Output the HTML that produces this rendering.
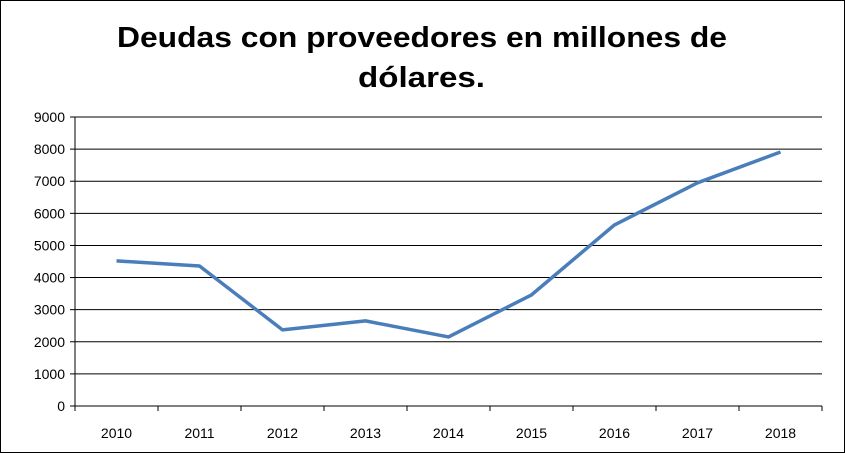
<!DOCTYPE html>
<html><head><meta charset="utf-8"><style>
body{margin:0;background:#fff;}
svg{display:block;font-family:"Liberation Sans",sans-serif;}
</style></head><body>
<svg id="chart" width="845" height="453">
<rect x="0.5" y="0.5" width="844" height="452" fill="#fff" stroke="#000"/>
<text x="117" y="47" textLength="610" lengthAdjust="spacingAndGlyphs" font-size="29" font-weight="bold">Deudas con proveedores en millones de</text>
<text x="358" y="87" textLength="127" lengthAdjust="spacingAndGlyphs" font-size="29" font-weight="bold">dólares.</text>
<g id="grid"></g><g id="axes"></g><g id="series"></g>
</svg>
<script>
const categories=["2010","2011","2012","2013","2014","2015","2016","2017","2018"];
const values=[4520,4360,2370,2650,2150,3460,5640,6950,7910];
const yTicks=[0,1000,2000,3000,4000,5000,6000,7000,8000,9000];
const ns="http://www.w3.org/2000/svg";
const L=75,R=822,T=117,B=406,yMax=9000;
const band=(R-L)/categories.length;
const x=i=>L+band*(i+0.5);
const y=v=>B-(v/yMax)*(B-T);
function mk(t,a,p){const e=document.createElementNS(ns,t);for(const k in a)e.setAttribute(k,a[k]);p.appendChild(e);return e;}
const g=document.getElementById('grid'),ax=document.getElementById('axes'),s=document.getElementById('series');
yTicks.forEach(v=>{
  const ln=mk('line',{x1:L,x2:R,y1:y(v),y2:y(v),stroke:'#000','stroke-width':1},g);
  
  
  const tk=mk('line',{x1:L-5,x2:L,y1:y(v),y2:y(v),stroke:'#000'},ax);
  
  
  const t=mk('text',{x:L-10,y:y(v)+5,'text-anchor':'end','font-size':14},ax);
  t.textContent=v;
  
  
});
const ya=mk('line',{x1:L,x2:L,y1:T,y2:B,stroke:'#000'},ax);


categories.forEach((c,i)=>{
  const tk=mk('line',{x1:L+band*(i+1),x2:L+band*(i+1),y1:B,y2:B+5,stroke:'#000'},ax);
  
  
  const t=mk('text',{x:x(i),y:B+32,'text-anchor':'middle','font-size':14},ax);
  t.textContent=c;
  
  
});
const tk0=mk('line',{x1:L,x2:L,y1:B,y2:B+5,stroke:'#000'},ax);


const pl=mk('polyline',{points:values.map((v,i)=>x(i)+','+y(v)).join(' '),fill:'none',stroke:'#4a7ebb','stroke-width':3.5,'stroke-linejoin':'round'},s);


</script>
</body></html>
